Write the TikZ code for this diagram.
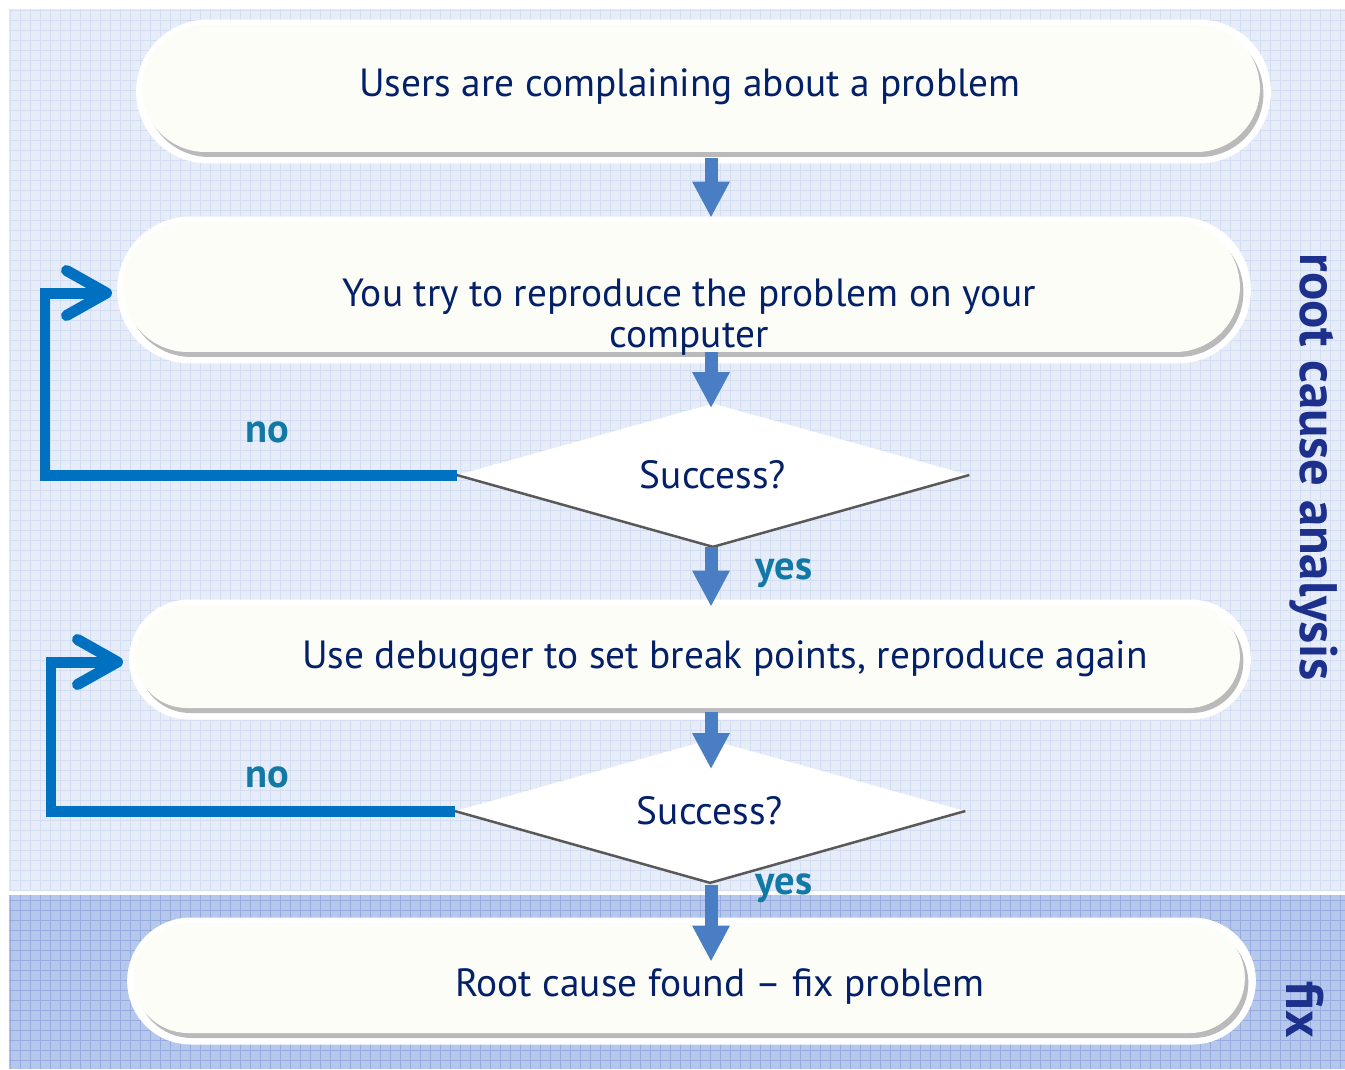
\documentclass[tikz,border=0pt]{standalone}
\usepackage{fontspec}
\setmainfont{PT Sans}
\usetikzlibrary{shapes.misc,shapes.geometric,arrows.meta,shadows}
\definecolor{bgtop}{RGB}{231,237,248}
\definecolor{gridtop}{RGB}{212,222,243}
\definecolor{bgbot}{RGB}{182,199,236}
\definecolor{gridbot}{RGB}{150,172,225}
\definecolor{pillfill}{RGB}{253,253,248}
\definecolor{navytext}{RGB}{4,32,104}
\definecolor{yesno}{RGB}{18,120,166}
\definecolor{blockblue}{RGB}{74,126,196}
\definecolor{loopblue}{RGB}{0,112,192}
\definecolor{labelnavy}{RGB}{28,48,140}
\begin{document}
\begin{tikzpicture}[x=0.02cm,y=-0.02cm,
  pill/.style={shape=rounded rectangle, inner sep=0pt, draw=none,
    general shadow={shadow xshift=0.05cm, shadow yshift=-0.06cm, draw=white, line width=0.34cm, fill=white},
    drop shadow={shadow xshift=0.07cm, shadow yshift=-0.1cm, fill=black!60, opacity=0.45},
    fill=pillfill},
  maintext/.style={text=navytext, font=\fontsize{22.4}{23.3}\selectfont, inner sep=0pt, align=center},
  decision/.style={shape=diamond, shape aspect=3.58, inner sep=0pt, fill=white, draw=none, text=navytext,
    font=\fontsize{22.4}{24}\selectfont},
  diaedge/.style={draw=black!65, line width=0.05cm, line join=round},
  blockarr/.style={draw=blockblue, line width=0.26cm, -{Triangle[width=0.7cm,length=0.72cm]}},
  looparr/.style={draw=loopblue, line width=0.22cm, line join=miter,
    -{Straight Barb[length=0.8cm,width=0.9cm,round]}},
  yesnotext/.style={text=yesno, font=\bfseries\fontsize{23}{26}\selectfont, inner sep=0pt},
  sidelabel/.style={text=labelnavy, font=\bfseries\fontsize{30}{34}\selectfont, inner sep=0pt, rotate=-90},
  gridlinetop/.style={draw=gridtop, line width=0.02cm},
  gridlinebot/.style={draw=gridbot, line width=0.02cm}
]
\useasboundingbox (0,0) rectangle (1345,1069);
\fill[white] (0,0) rectangle (1345,1069);
% background bands
\fill[bgtop] (9,9) rectangle (1345,891);
\foreach \gx in {10,20,...,1340} {\draw[gridlinetop] (\gx,9) -- (\gx,891);}
\foreach \gy in {10,20,...,890} {\draw[gridlinetop] (9,\gy) -- (1345,\gy);}
\fill[bgbot] (9,895) rectangle (1345,1069);
\foreach \gx in {10,20,...,1340} {\draw[gridlinebot] (\gx,895) -- (\gx,1069);}
\foreach \gy in {900,910,...,1060} {\draw[gridlinebot] (9,\gy) -- (1345,\gy);}

% process boxes
\node[pill, minimum width=22.36cm, minimum height=2.54cm] (b1) at (701,88.5) {};
\node[pill, minimum width=22.34cm, minimum height=2.6cm] (b2) at (681.5,287) {};
\node[pill, minimum width=22.1cm, minimum height=2.06cm] (b3) at (687.5,656.5) {};
\node[pill, minimum width=22.24cm, minimum height=2.2cm] (b4) at (689,978) {};

\node[maintext] (t1) at (690,87) {Users are complaining about a problem};
\node[maintext] (t2) at (689,317) {You try to reproduce the problem on your\\computer};
\node[maintext] (t3) at (725,659) {Use debugger to set break points, reproduce again};
\node[maintext] (t4) at (720,986) {Root cause found – fix problem};

% decisions
\node[decision, minimum width=10.24cm, minimum height=2.86cm] (d1) at (713,475) {Success?};
\draw[diaedge] (d1.west) -- (d1.south) -- (d1.east);
\node[decision, minimum width=10.2cm, minimum height=2.86cm] (d2) at (710,811) {Success?};
\draw[diaedge] (d2.west) -- (d2.south) -- (d2.east);

% straight arrows
\coordinate (ax) at (711,0);
\draw[blockarr, shorten <=0.12cm, shorten >=0.08cm] (b1.south -| ax) -- (b2.north -| ax);
\draw[blockarr, shorten >=-0.1cm] (b2.south -| ax) -- (d1.north -| ax);
\draw[blockarr, shorten >=-0.04cm] (d1.south -| ax) -- (b3.north -| ax);
\draw[blockarr, shorten <=0.08cm, shorten >=-0.6cm] (b3.south -| ax) -- (d2.north -| ax);
\draw[blockarr, shorten <=0.04cm, shorten >=-0.78cm] (d2.south -| ax) -- (b4.north -| ax);

% loops
\coordinate (c1) at (45,0);
\coordinate (in1) at (112,293);
\draw[looparr] (d1.west) -- (d1.west -| c1) |- (in1);
\coordinate (c2) at (51,0);
\coordinate (in2) at (123,662);
\draw[looparr] (d2.west) -- (d2.west -| c2) |- (in2);

% labels
\node[yesnotext] (no1) at (267,432) {no};
\node[yesnotext] (no2) at (267,777) {no};
\node[yesnotext] (yes1) at (784,573) {yes};
\node[yesnotext] (yes2) at (784,888) {yes};

\node[sidelabel] (rca) at (1314,467) {root cause analysis};
\node[sidelabel] (fix) at (1305,1010) {fix};
\end{tikzpicture}
\end{document}
